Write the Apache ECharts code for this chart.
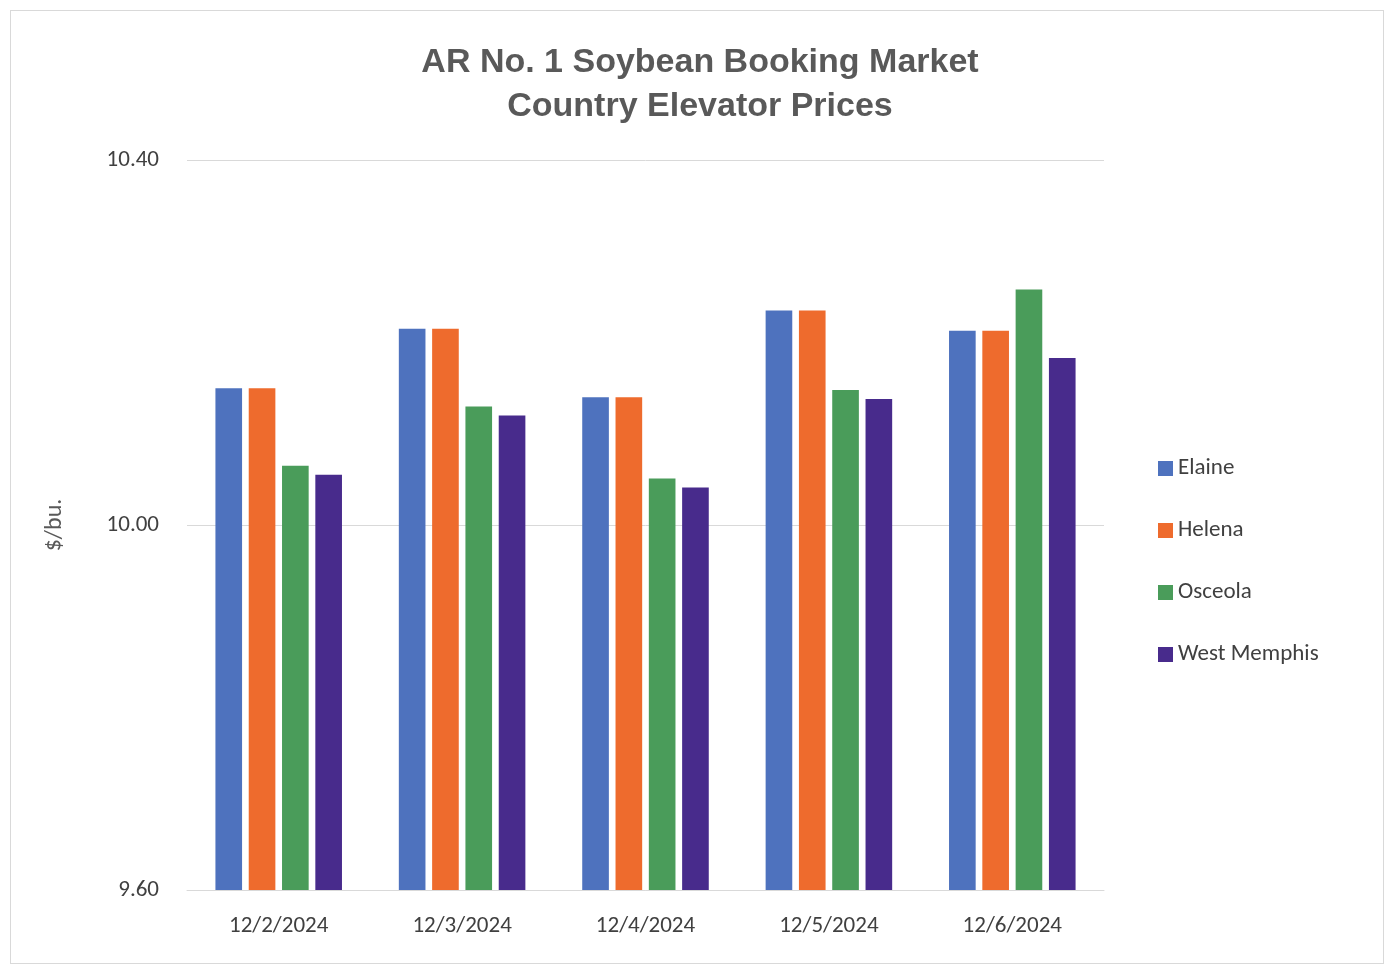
<!DOCTYPE html>
<html>
<head>
<meta charset="utf-8">
<script src="https://cdn.jsdelivr.net/npm/echarts@6/dist/echarts.min.js"></script>
<style>
  body { margin: 0; background: #fff; }
  #frame { position: absolute; left: 10px; top: 10px; width: 1374px; height: 954px; border: 1px solid #d9d9d9; box-sizing: border-box; }
  #chart { width: 1394px; height: 974px; }
</style>
</head>
<body>
<div id="frame"></div>
<div id="chart"></div>
<script>
var dates = ['12/2/2024', '12/3/2024', '12/4/2024', '12/5/2024', '12/6/2024'];
var elaine = [10.15, 10.215, 10.14, 10.235, 10.213];
var helena = [10.15, 10.215, 10.14, 10.235, 10.213];
var osceola = [10.065, 10.130, 10.051, 10.148, 10.258];
var westMemphis = [10.055, 10.120, 10.041, 10.138, 10.183];
var yTicks = [9.6, 10.0, 10.4];

var names = ['Elaine', 'Helena', 'Osceola', 'West Memphis'];
var colors = ['#4e72be', '#ee6b2d', '#4a9c5a', '#482b8c'];
var seriesData = [elaine, helena, osceola, westMemphis];

var chart = echarts.init(document.getElementById('chart'));
var font = 'Calibri, "Liberation Sans", "Open Sans", sans-serif';
chart.setOption({
	animation: false,
	title: {
		text: 'AR No. 1 Soybean Booking Market\nCountry Elevator Prices',
		left: 695, top: 36, textAlign: 'center',
		textStyle: { fontFamily: 'Arial, "Liberation Sans", sans-serif', fontSize: 34, fontWeight: 'bold', color: '#595959', lineHeight: 44 }
	},
	legend: {
		orient: 'vertical', left: 1153, top: 452,
		itemWidth: 15, itemHeight: 15, itemGap: 39,
		icon: 'rect',
		textStyle: { fontFamily: font, fontSize: 23, color: '#404040' },
		data: names
	},
	grid: { left: 187, right: 290, top: 160, bottom: 84 },
	xAxis: {
		type: 'category', data: dates,
		axisTick: { show: false },
		axisLine: { lineStyle: { color: '#d9d9d9' } },
		axisLabel: { fontFamily: font, fontSize: 23, color: '#404040', margin: 25 }
	},
	yAxis: {
		type: 'value', min: 9.6, max: 10.4, interval: 0.4,
		name: '$/bu.', nameLocation: 'center', nameGap: 120, nameRotate: 90,
		nameTextStyle: { fontFamily: font, fontSize: 24, color: '#595959' },
		axisLine: { show: false }, axisTick: { show: false },
		splitLine: { lineStyle: { color: '#d9d9d9' } },
		axisLabel: {
			fontFamily: font, fontSize: 23, color: '#404040', margin: 28,
			formatter: function (v) { return yTicks.some(function (t) { return Math.abs(t - v) < 1e-6; }) ? v.toFixed(2) : ''; }
		}
	},
	series: names.map(function (n, i) {
		return {
			name: n, type: 'bar', data: seriesData[i],
			itemStyle: { color: colors[i] },
			barGap: '25%', barCategoryGap: '31%'
		};
	})
});
</script>
</body>
</html>
